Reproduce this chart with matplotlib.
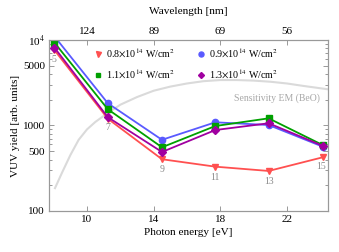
import matplotlib.pyplot as plt
from matplotlib.ticker import FixedLocator, NullFormatter

plt.rcParams['font.family'] = ['Liberation Serif', 'DejaVu Serif']
plt.rcParams['mathtext.fontset'] = 'stix'

# harmonic orders and photon energies [eV]
orders = [5, 7, 9, 11, 13, 15]
energy = [8.05, 11.25, 14.5, 17.7, 20.9, 24.15]

# VUV yield per intensity
y08 = [7600, 1200, 403, 330, 294, 425]
y09 = [11000, 1820, 680, 1090, 1013, 565]
y11 = [9300, 1550, 556, 986, 1213, 590]
y13 = [8130, 1250, 490, 885, 1062, 578]

# detector sensitivity curve (EM, BeO), arbitrary scale
sens_e = [8.08, 8.5, 9.0, 9.5, 10.0, 10.5, 11.2, 12.0, 13.0, 14.0, 15.0,
          16.0, 17.0, 18.0, 19.0, 20.0, 21.0, 22.0, 23.0, 24.46]
sens_v = [185, 280, 450, 680, 900, 1100, 1380, 1750, 2150, 2550, 2850,
          3100, 3300, 3400, 3400, 3350, 3250, 3100, 2900, 2650]

top_ticks = [10, 14, 18, 22]
top_labels = ['124', '89', '69', '56']

fig = plt.figure(figsize=(3.39, 2.52), dpi=100)
ax = fig.add_axes([0.1445, 0.1627, 0.823, 0.6786])

ax.plot(sens_e, sens_v, color='#dadada', lw=1.5, zorder=1)
ax.text(24.0, 2080, 'Sensitivity EM (BeO)', color='#a8a8a8', fontsize=7,
        ha='right', va='center')

l08, = ax.plot(energy, y08, color='#ff5050', marker='v', ms=4.5, lw=1.3,
               label=r'0.8$\times$10$^{14}$ W/cm$^2$')
l09, = ax.plot(energy, y09, color='#5a5aff', marker='o', ms=4.5, lw=1.3,
               label=r'0.9$\times$10$^{14}$ W/cm$^2$')
l11, = ax.plot(energy, y11, color='#00a000', marker='s', ms=4, lw=1.3,
               label=r'1.1$\times$10$^{14}$ W/cm$^2$')
l13, = ax.plot(energy, y13, color='#a000a0', marker='D', ms=3.8, lw=1.3,
               label=r'1.3$\times$10$^{14}$ W/cm$^2$')

# harmonic order labels
offs = [(-0.05, 0.83), (0.0, 0.8), (0.0, 0.76), (0.0, 0.75), (0.0, 0.75), (-0.1, 0.78)]
for e, lo, n, (dx, f) in zip(energy, y08, orders, offs):
    base = y13[0] if n == 5 else lo
    ax.text(e + dx, base * f * (0.88 if n == 5 else 1), str(n), color='#888888',
            fontsize=7, ha='center', va='center')

ax.set_yscale('log')
ax.set_xlim(7.72, 24.46)
ax.set_ylim(100, 10000)
ax.set_xticks([10, 14, 18, 22])
ax.yaxis.set_major_locator(FixedLocator([100, 500, 1000, 5000, 10000]))
ax.set_yticklabels(['100', '500', '1000', '5000', r'10$^4$'])
minors = [200, 300, 400, 600, 700, 800, 900, 2000, 3000, 4000, 6000, 7000, 8000, 9000]
ax.yaxis.set_minor_locator(FixedLocator(minors))
ax.yaxis.set_minor_formatter(NullFormatter())

ax.set_xlabel('Photon energy [eV]', fontsize=8.1, labelpad=3)
ax.set_ylabel('VUV yield [arb. units]', fontsize=8.1, labelpad=2)

ax2 = ax.twiny()
ax2.set_xlim(ax.get_xlim())
ax2.set_xticks(top_ticks)
ax2.set_xticklabels(top_labels)
ax2.set_xlabel('Wavelength [nm]', fontsize=8.1, labelpad=9)

for a in (ax, ax2):
    for s in a.spines.values():
        s.set_color('#999999')
    a.tick_params(which='both', direction='in', labelsize=8, color='#999999',
                  top=False, right=True, width=0.7)
    a.tick_params(which='major', length=3.5, pad=3)
    a.tick_params(which='minor', length=2)
ax2.tick_params(top=True, bottom=False, right=False)

leg = ax.legend([l08, l11, l09, l13], [l.get_label() for l in (l08, l11, l09, l13)],
                loc='upper left', bbox_to_anchor=(0.16, 0.962), ncol=2, frameon=False,
                fontsize=7.2, handlelength=0.8, handletextpad=0.4, columnspacing=2.2,
                labelspacing=0.85, numpoints=1, markerscale=0.8,
                borderpad=0, borderaxespad=0)
for h in leg.legend_handles:
    h.set_linestyle('none')

fig.savefig('out.png', dpi=100)
